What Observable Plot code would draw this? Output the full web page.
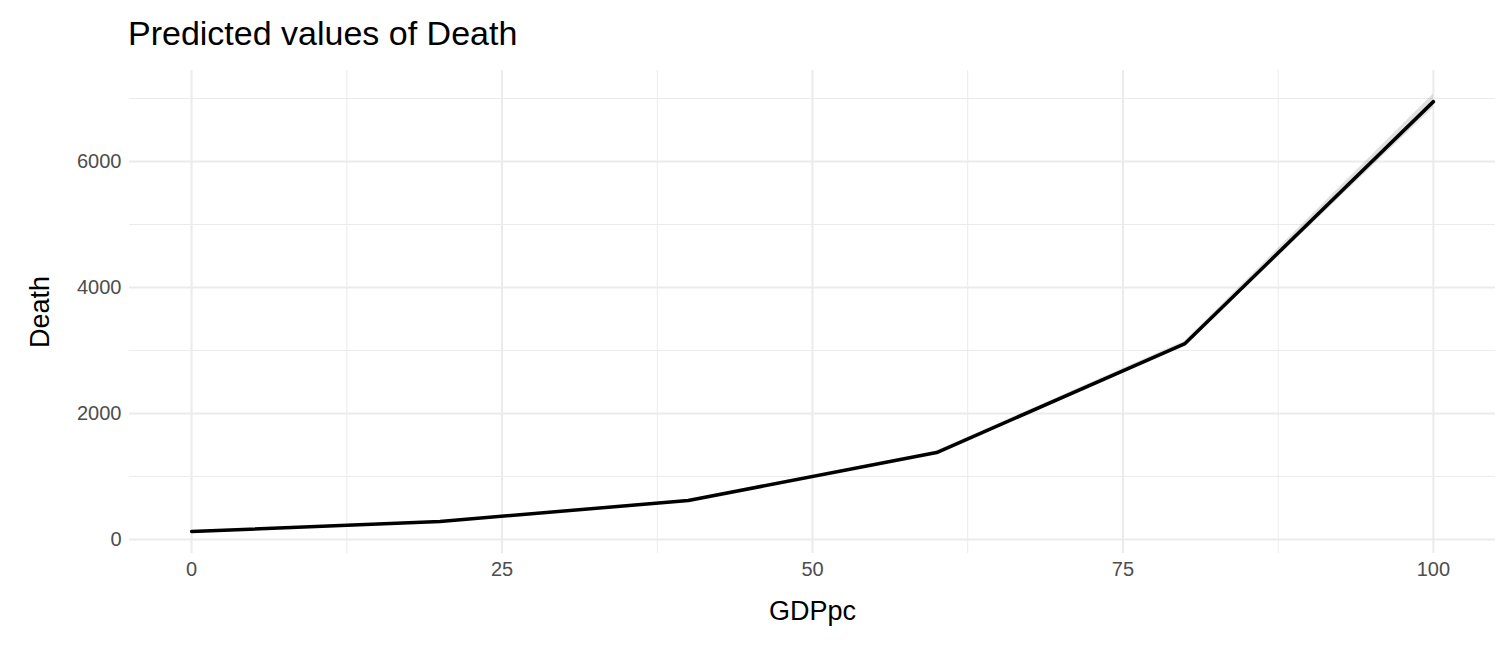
<!DOCTYPE html>
<html><head>
<meta charset="utf-8">
<script src="https://cdn.jsdelivr.net/npm/d3@7"></script>
<script src="https://cdn.jsdelivr.net/npm/@observablehq/plot@0.6"></script>
<style>body{margin:0;background:#fff;font-family:"Liberation Sans",Arial,sans-serif}
#t{position:absolute;left:128px;top:14px;font-size:34px;color:#000}
#c{position:absolute;left:0;top:0}</style>
</head><body>
<div id="c"></div><div id="t">Predicted values of Death</div>
<script>
const gdp = [0, 20, 40, 60, 80, 100];
const death = [127, 285, 620, 1380, 3110, 6950];
const lower = [120, 275, 605, 1355, 3070, 6850];
const upper = [134, 295, 635, 1405, 3150, 7070];
const xMajor = [0, 25, 50, 75, 100];
const xMinor = [12.5, 37.5, 62.5, 87.5];
const yMajor = [0, 2000, 4000, 6000];
const yMinor = [1000, 3000, 5000, 7000];
const data = gdp.map((g, i) => ({g, d: death[i], lo: lower[i], hi: upper[i]}));
const chart = Plot.plot({
  width: 1512, height: 648,
  marginLeft: 129, marginRight: 17, marginTop: 70, marginBottom: 95,
  style: {fontFamily: "Liberation Sans, Arial, sans-serif", fontSize: "20px", color: "#4d4d4d"},
  x: {domain: [-5, 105], ticks: xMajor, tickSize: 0, tickPadding: 8, tickFormat: d3.format("d"), label: "GDPpc", labelArrow: false, labelAnchor: "center", labelOffset: 66},
  y: {domain: [-222, 7444], ticks: yMajor, tickSize: 0, tickPadding: 8, tickFormat: d3.format("d"), label: "Death", labelArrow: false, labelAnchor: "center", labelOffset: 100},
  marks: [
    Plot.ruleX(xMinor, {stroke: "#ebebeb", strokeWidth: 1}),
    Plot.ruleY(yMinor, {stroke: "#ebebeb", strokeWidth: 1}),
    Plot.ruleX(xMajor, {stroke: "#ebebeb", strokeWidth: 2}),
    Plot.ruleY(yMajor, {stroke: "#ebebeb", strokeWidth: 2}),
    Plot.areaY(data, {x: "g", y1: "lo", y2: "hi", fill: "#000", fillOpacity: 0.12}),
    Plot.lineY(data, {x: "g", y: "d", stroke: "#000", strokeWidth: 3.5})
  ]
});
chart.querySelectorAll("[aria-label$='axis label'] text, [aria-label$='axis label']").forEach(e => {e.style.fill = "#000"; e.style.fontSize = "27px";});
document.getElementById("c").append(chart);
</script>
</body></html>
